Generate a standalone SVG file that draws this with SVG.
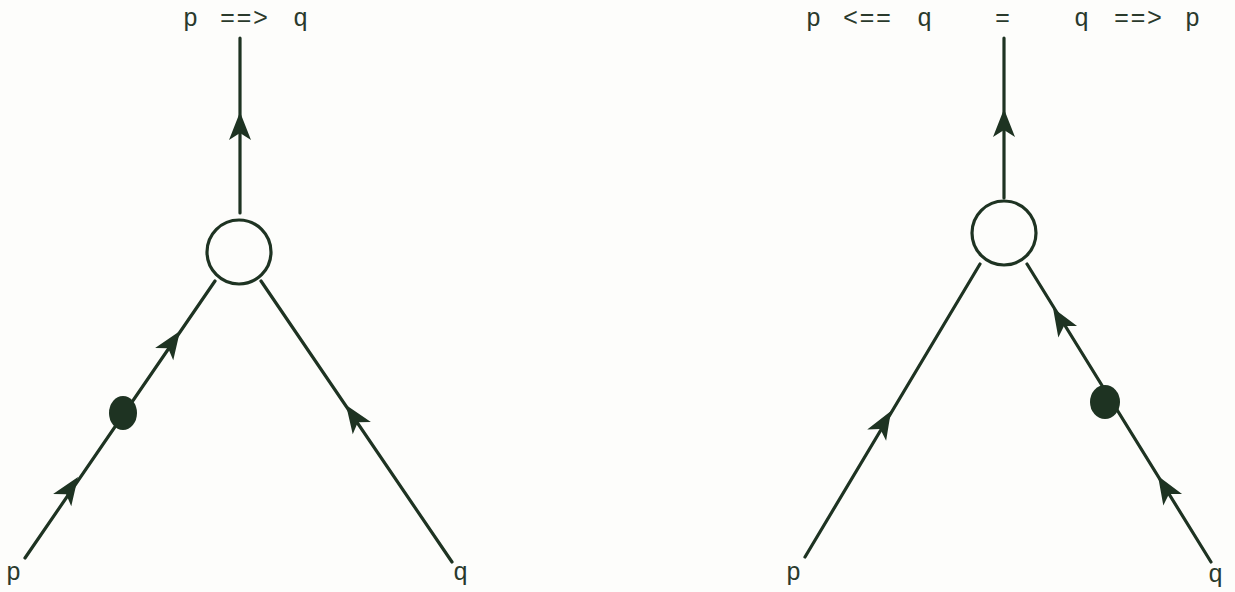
<svg xmlns="http://www.w3.org/2000/svg" width="1235" height="592" viewBox="0 0 1235 592">
<style>
.ln{stroke:#1e3322;stroke-width:3.2;fill:none;stroke-linecap:round}
.ring{stroke:#1e3322;stroke-width:3.2;fill:#fdfdfb}
.dot{fill:#1e3322}
.ah{fill:#1e3322}
.t{font-family:"Liberation Mono","DejaVu Sans Mono",monospace;font-size:25px;fill:#2a3a2c;letter-spacing:1.5px}
</style>
<defs>
<path id="arr" d="M0,0 L-28,-11 L-21,0 L-28,11 Z"/>
</defs>
<rect width="1235" height="592" fill="#fdfdfb"/>
<g id="connectors">
<line class="ln" x1="240" y1="38" x2="240" y2="213"/>
<line class="ln" x1="215" y1="281" x2="25" y2="558"/>
<line class="ln" x1="261" y1="281" x2="452" y2="562"/>
<line class="ln" x1="1004" y1="38" x2="1004" y2="198"/>
<line class="ln" x1="980" y1="264" x2="805" y2="557"/>
<line class="ln" x1="1027" y1="264" x2="1211" y2="562"/>
<use href="#arr" class="ah" transform="translate(240,112) rotate(-90)"/>
<use href="#arr" class="ah" transform="translate(180,331) rotate(-55.6)"/>
<use href="#arr" class="ah" transform="translate(78,477) rotate(-55.6)"/>
<use href="#arr" class="ah" transform="translate(346,405) rotate(-124.4)"/>
<use href="#arr" class="ah" transform="translate(1004,109) rotate(-90)"/>
<use href="#arr" class="ah" transform="translate(891,411) rotate(-59.2)"/>
<use href="#arr" class="ah" transform="translate(1053,308) rotate(-121.6)"/>
<use href="#arr" class="ah" transform="translate(1158,476) rotate(-121.6)"/>
</g>
<g id="node-left-junction"><circle class="ring" cx="239" cy="252" r="32"/></g>
<g id="node-left-dot"><ellipse class="dot" cx="123" cy="413" rx="14" ry="17"/></g>
<g id="node-right-junction"><circle class="ring" cx="1004" cy="233" r="32"/></g>
<g id="node-right-dot"><ellipse class="dot" cx="1105" cy="402" rx="15" ry="17"/></g>
<g id="label-left-top"><text class="t" x="183" y="26">p<tspan x="220">==&gt;</tspan><tspan x="293">q</tspan></text></g>
<g id="label-right-top"><text class="t" x="806" y="26">p<tspan x="843">&lt;==</tspan><tspan x="917">q</tspan><tspan x="995">=</tspan><tspan x="1074">q</tspan><tspan x="1114">==&gt;</tspan><tspan x="1185">p</tspan></text></g>
<g id="node-left-p"><text class="t" x="6" y="580">p</text></g>
<g id="node-left-q"><text class="t" x="453" y="580">q</text></g>
<g id="node-right-p"><text class="t" x="786" y="580">p</text></g>
<g id="node-right-q"><text class="t" x="1208" y="582">q</text></g>
</svg>
